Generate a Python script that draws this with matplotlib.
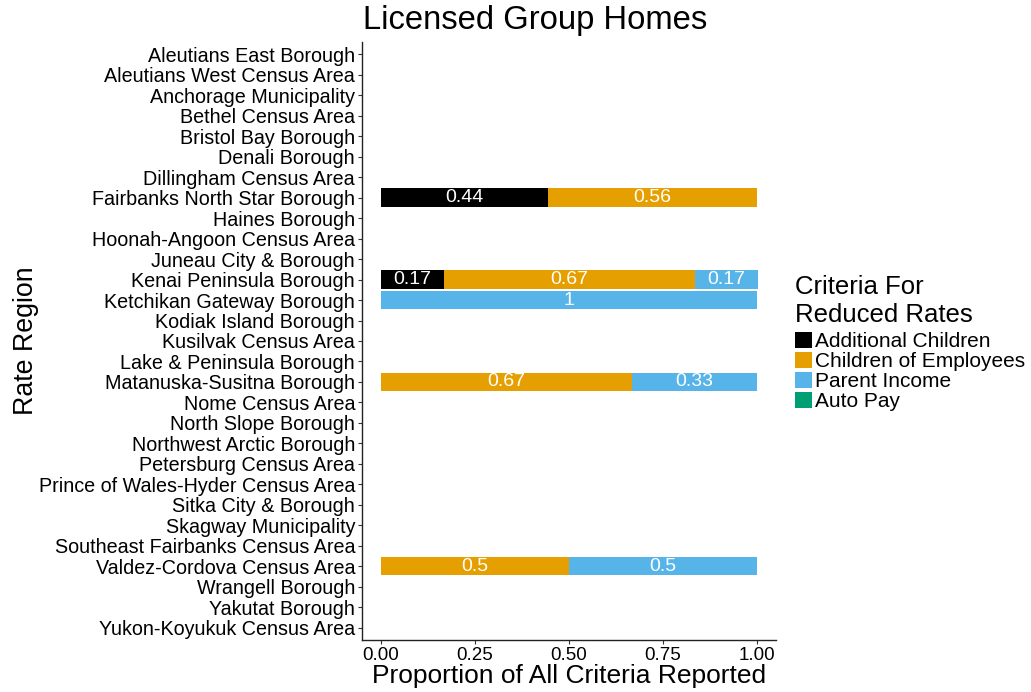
import numpy as np
import pandas as pd
import matplotlib
matplotlib.use('Agg')
import matplotlib.pyplot as plt
from matplotlib.patches import Patch

''' Licensed Group Homes - reduced rate criteria by region '''

regions = ['Aleutians East Borough', 'Aleutians West Census Area', 'Anchorage Municipality',
           'Bethel Census Area', 'Bristol Bay Borough', 'Denali Borough', 'Dillingham Census Area',
           'Fairbanks North Star Borough', 'Haines Borough', 'Hoonah-Angoon Census Area',
           'Juneau City & Borough', 'Kenai Peninsula Borough', 'Ketchikan Gateway Borough',
           'Kodiak Island Borough', 'Kusilvak Census Area', 'Lake & Peninsula Borough',
           'Matanuska-Susitna Borough', 'Nome Census Area', 'North Slope Borough',
           'Northwest Arctic Borough', 'Petersburg Census Area', 'Prince of Wales-Hyder Census Area',
           'Sitka City & Borough', 'Skagway Municipality', 'Southeast Fairbanks Census Area',
           'Valdez-Cordova Census Area', 'Wrangell Borough', 'Yakutat Borough',
           'Yukon-Koyukuk Census Area']

criteria = ['Additional Children', 'Children of Employees', 'Parent Income', 'Auto Pay']
colors = ['#000000', '#E69F00', '#56B4E9', '#009E73']

# proportions for the regions that reported something, everything else is 0
additional = {'Fairbanks North Star Borough': 0.444, 'Kenai Peninsula Borough': 0.167}
employees = {'Fairbanks North Star Borough': 0.556, 'Kenai Peninsula Borough': 0.667,
             'Matanuska-Susitna Borough': 0.667, 'Valdez-Cordova Census Area': 0.5}
income = {'Kenai Peninsula Borough': 0.167, 'Ketchikan Gateway Borough': 1.0,
          'Matanuska-Susitna Borough': 0.333, 'Valdez-Cordova Census Area': 0.5}
autopay = {}

df = pd.DataFrame({'Additional Children': additional, 'Children of Employees': employees,
                   'Parent Income': income, 'Auto Pay': autopay}, index=regions, columns=criteria)
df = df.fillna(0.0)

plt.rcParams['font.family'] = ['Liberation Sans', 'DejaVu Sans']

fig = plt.figure(figsize=(10.31, 6.92), dpi=100)
ax = fig.add_axes([362 / 1031, 1 - 640 / 692, 414 / 1031, 598 / 692])

n = len(regions)
ypos = n - np.arange(n)  # first region on top
left = np.zeros(n)
for c, col in zip(criteria, colors):
    vals = df[c].values
    ax.barh(ypos, vals, left=left, height=0.9, color=col, edgecolor='none')
    for y, l, v in zip(ypos, left, vals):
        if v > 0:
            ax.text(l + v / 2, y, f"{round(v, 2):g}", color='white', fontsize=14,
                    ha='center', va='center')
    left = left + vals

ax.set_xlim(-0.05, 1.05)
ax.set_ylim(0.4, n + 0.6)
ax.set_yticks(ypos)
ax.set_yticklabels(regions, fontsize=14.2)
ax.set_xticks([0, 0.25, 0.5, 0.75, 1.0])
ax.set_xticklabels(['0.00', '0.25', '0.50', '0.75', '1.00'], fontsize=13.5)
ax.tick_params(axis='both', length=3, width=0.8, color='#333333', pad=2)
for s in ['top', 'right']:
    ax.spines[s].set_visible(False)
for s in ['left', 'bottom']:
    ax.spines[s].set_linewidth(1.0)
    ax.spines[s].set_color('#222222')

ax.set_xlabel('Proportion of All Criteria Reported', fontsize=19, labelpad=0)
ax.set_ylabel('Rate Region', fontsize=19.3, labelpad=0)
fig.text(363 / 1031, 1 - 21 / 692, 'Licensed Group Homes', fontsize=23.6,
         ha='left', va='center')

# legend title drawn on its own so the gap to the keys matches
fig.text(795 / 1031, 1 - 301 / 692, 'Criteria For\nReduced Rates', fontsize=18.5,
         ha='left', va='center', linespacing=1.22)
handles = [Patch(facecolor=col, edgecolor='none', label=c) for c, col in zip(criteria, colors)]
leg = fig.legend(handles=handles, loc='upper left', bbox_to_anchor=(793 / 1031, 1 - 330 / 692),
                 fontsize=15, frameon=False, handlelength=0.8, handleheight=0.8,
                 handletextpad=0.15, labelspacing=0.03, borderaxespad=0, borderpad=0.1)

fig.savefig('out.png', dpi=100)
